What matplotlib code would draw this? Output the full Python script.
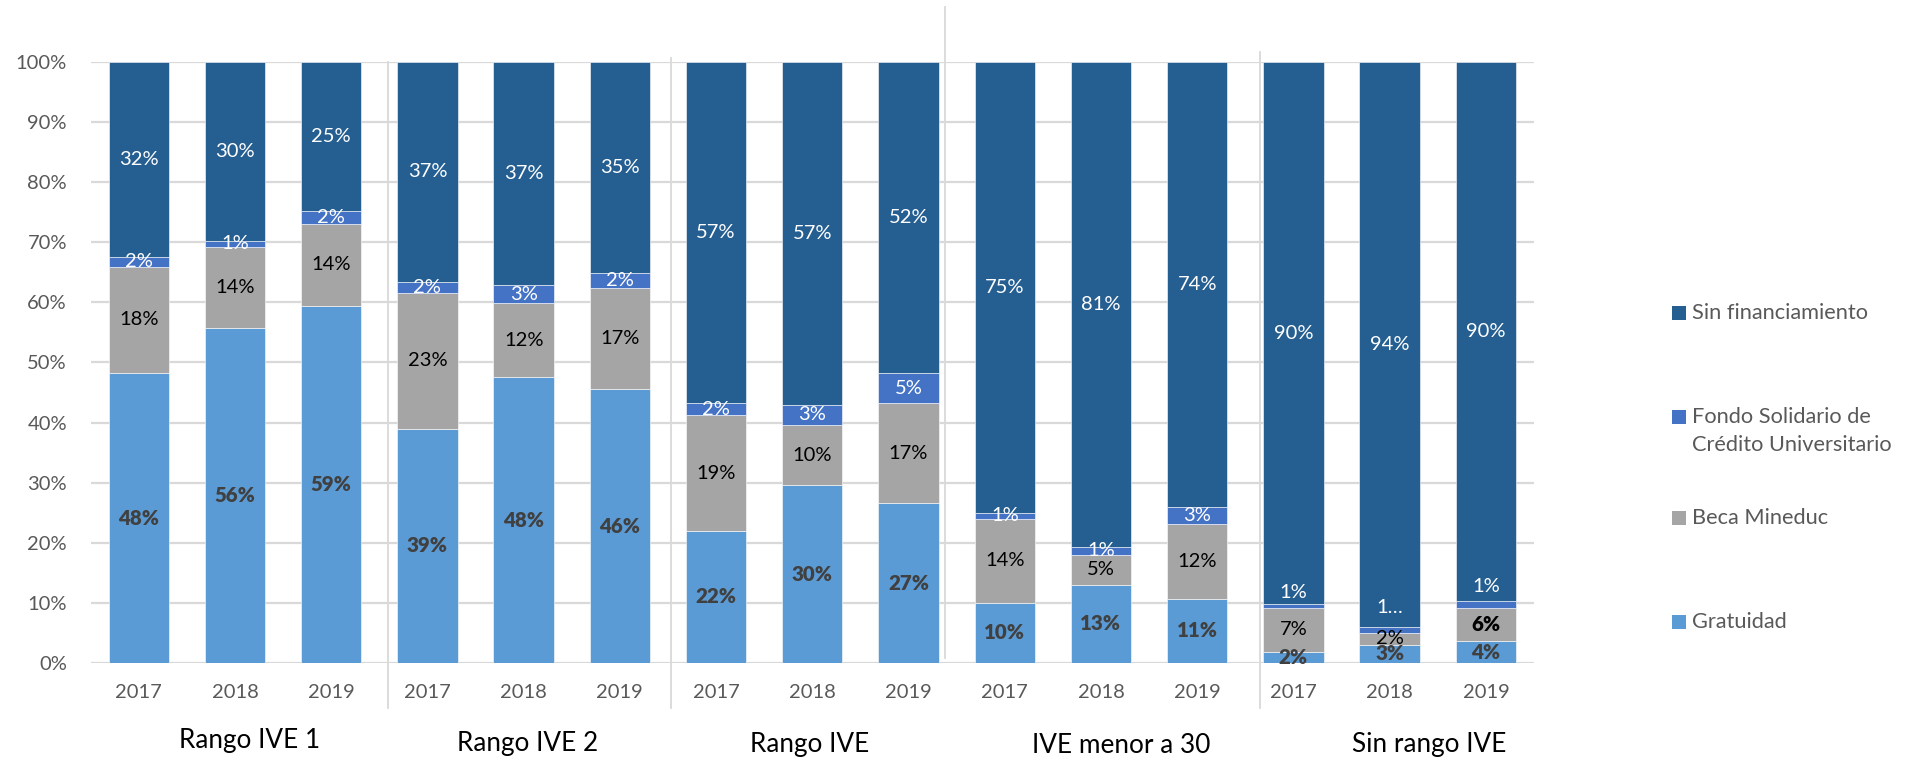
import matplotlib
matplotlib.use("Agg")
import matplotlib.pyplot as plt
from matplotlib.patches import Rectangle
import numpy as np

plt.rcParams['font.family'] = ['Lato', 'DejaVu Sans']

# ---------------- data ----------------
groups = ["Rango IVE 1", "Rango IVE 2", "Rango IVE", "IVE menor a 30", "Sin rango IVE"]
years = ["2017", "2018", "2019"]
series_names = ["Gratuidad", "Beca Mineduc",
                "Fondo Solidario de\nCrédito Universitario", "Sin financiamiento"]

gratuidad = [48.2, 55.7, 59.4, 39.0, 47.6, 45.6, 22.0, 29.6, 26.6, 10.0, 13.0, 10.7, 1.8, 3.0, 3.6]
beca = [17.7, 13.6, 13.6, 22.7, 12.3, 16.9, 19.2, 10.1, 16.7, 14.0, 5.0, 12.4, 7.4, 2.0, 5.6]
fondo = [1.6, 0.9, 2.1, 1.8, 3.0, 2.4, 2.1, 3.3, 5.0, 1.0, 1.3, 2.8, 0.6, 1.0, 1.2]
sin_fin = [32.4, 29.8, 24.8, 36.6, 37.2, 35.2, 56.7, 57.2, 51.8, 75.0, 80.7, 74.0, 90.3, 94.0, 89.7]

# ---------------- styling ----------------
colors = ["#5B9BD5", "#A5A5A5", "#4472C4", "#255E91"]
label_colors = ["#404040", "#000000", "#FFFFFF", "#FFFFFF"]
label_bold = [True, False, False, False]
grid_c = "#D9D9D9"
tick_c = "#595959"

W, H = 1914, 759
fig = plt.figure(figsize=(W / 100, H / 100), dpi=100)
ax_l, ax_r, ax_t, ax_b = 90.6, 1534.0, 62.0, 663.0
ax = fig.add_axes([ax_l / W, (H - ax_b) / H, (ax_r - ax_l) / W, (ax_b - ax_t) / H])

data = np.array([gratuidad, beca, fondo, sin_fin])
totals = data.sum(axis=0)
pct = data / totals * 100
n = data.shape[1]
x = np.arange(n)
bw = 0.627

bottom = np.zeros(n)
for s in range(4):
    ax.bar(x, pct[s], bw, bottom=bottom, color=colors[s], edgecolor="#FFFFFF",
           linewidth=0.4, zorder=3)
    for i in range(n):
        yc = bottom[i] + pct[s][i] / 2
        txt = f"{data[s][i]:.0f}%"
        bold = label_bold[s]
        col = label_colors[s]
        # special placements / texts seen in the original
        if s == 2 and i == 12:
            yc = 11.7
        if s == 2 and i == 13:
            yc = 9.2
            txt = "1…"
        if s == 2 and i == 14:
            yc = 12.8
        if s == 1 and i == 14:
            bold = True
        ax.text(x[i], yc, txt, ha="center", va="center",
                fontsize=14.8 if bold else 14.5,
                color=col, fontweight="heavy" if bold else "normal", zorder=5)
    bottom += pct[s]

ax.set_xlim(-0.5, n - 0.5)
ax.set_ylim(0, 100)
ax.set_yticks(np.arange(0, 101, 10))
ax.set_yticklabels([f"{v}%" for v in range(0, 101, 10)])
ax.set_xticks(x)
ax.set_xticklabels(years * len(groups))
ax.tick_params(axis="both", length=0, colors=tick_c, labelsize=14.5)
ax.tick_params(axis="y", pad=17)
ax.tick_params(axis="x", pad=15)
ax.yaxis.grid(True, color=grid_c, linewidth=1.6, zorder=0)
ax.set_axisbelow(True)
for sp in ax.spines.values():
    sp.set_visible(False)

# group separators (as in the original, not perfectly regular)
seps = [(2.591, -0.075, 1.0), (5.528, -0.075, 1.007), (8.375, 0.008, 1.091), (11.65, -0.075, 1.017)]
for xs, y0, y1 in seps:
    ax.axvline(xs, ymin=y0, ymax=y1, color=grid_c, linewidth=1.3, clip_on=False, zorder=1)

# group labels
group_x = [1.153, 4.041, 6.972, 10.205, 13.41]
group_base = [748, 751, 752, 753, 752]
for g, gx, gb in zip(groups, group_x, group_base):
    ax.text(gx, (ax_b - gb) / (ax_b - ax_t), g, transform=ax.get_xaxis_transform(),
            ha="center", va="baseline", fontsize=18.8, color="#000000")

# legend (drawn manually, Excel-like layout)
leg_order = [3, 2, 1, 0]
leg_y = [313, 417, 518, 622]
for s, yy in zip(leg_order, leg_y):
    fig.add_artist(Rectangle(((1672) / W, (H - yy - 7) / H), 14 / W, 14 / H,
                             transform=fig.transFigure, facecolor=colors[s], edgecolor="none"))
    lines = series_names[s].split("\n")
    for k, line in enumerate(lines):
        fig.text(1692 / W, (H - yy - 28 * k) / H, line, ha="left", va="center",
                 fontsize=15.7, color=tick_c)

fig.savefig("out.png", dpi=100)
